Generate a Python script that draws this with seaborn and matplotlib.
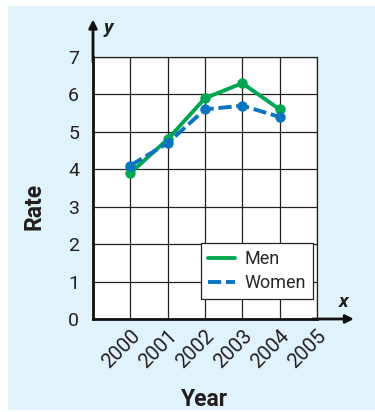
import numpy as np
import pandas as pd
import matplotlib
matplotlib.use("Agg")
import matplotlib.pyplot as plt
from matplotlib.patches import Rectangle
import seaborn as sns

# values
years = [2000, 2001, 2002, 2003, 2004]
men = [3.9, 4.8, 5.9, 6.3, 5.6]
women = [4.1, 4.7, 5.6, 5.7, 5.4]
series_names = ["Men", "Women"]
x_ticks = [1999, 2000, 2001, 2002, 2003, 2004, 2005]
x_tick_labels = ["", "2000", "2001", "2002", "2003", "2004", "2005"]
y_ticks = [0, 1, 2, 3, 4, 5, 6, 7]

green = "#00a651"
blue = "#0a74c0"
panel_blue = "#e0f2fa"
ink = "#231f20"

df = pd.DataFrame({
    "Year": years * 2,
    "Rate": men + women,
    "series": ["Men"] * len(years) + ["Women"] * len(years),
})

sns.set_style("white")
plt.rcParams["font.family"] = ["Roboto", "DejaVu Sans"]

fig = plt.figure(figsize=(3.75, 4.12), dpi=100, facecolor="white")
# light blue panel behind the chart
fig.patches.append(Rectangle((8 / 375, 2 / 412), 367 / 375, 404 / 412,
                             transform=fig.transFigure, facecolor=panel_blue,
                             edgecolor="none", zorder=-5))

ax = fig.add_axes([93 / 375, 1 - 319 / 412, 224 / 375, 262 / 412])
ax.set_facecolor("white")

sns.lineplot(data=df, x="Year", y="Rate", hue="series", style="series",
             palette={"Men": green, "Women": blue},
             dashes={"Men": "", "Women": (3.4, 1.2)},
             markers={"Men": "o", "Women": "o"}, markersize=7.5,
             markeredgewidth=0, linewidth=2.8, ax=ax, zorder=5, clip_on=False)

ax.set_xlim(1999, 2005)
ax.set_ylim(0, 7)
ax.set_xticks(x_ticks)
ax.set_xticklabels(x_tick_labels, rotation=45, ha="right", va="top",
                   rotation_mode="anchor", fontsize=14.5, color=ink)
ax.set_yticks(y_ticks)
ax.set_yticklabels([str(v) for v in y_ticks], fontsize=14, color=ink)
ax.tick_params(axis="both", length=0)
ax.tick_params(axis="y", pad=10)
ax.tick_params(axis="x", pad=5)

ax.grid(True, color="#222222", linewidth=0.9)
ax.set_axisbelow(True)
for side in ["top", "right"]:
    ax.spines[side].set_color("#222222")
    ax.spines[side].set_linewidth(0.9)
for side in ["left", "bottom"]:
    ax.spines[side].set_color("#111111")
    ax.spines[side].set_linewidth(2)

# axis arrows
ax.annotate("", xy=(0, 1.143), xytext=(0, 0.98), xycoords="axes fraction",
            arrowprops=dict(arrowstyle="-|>", color="#111111", lw=2,
                            mutation_scale=12, shrinkA=0, shrinkB=0),
            annotation_clip=False)
ax.annotate("", xy=(1.165, 0), xytext=(0.98, 0), xycoords="axes fraction",
            arrowprops=dict(arrowstyle="-|>", color="#111111", lw=2,
                            mutation_scale=12, shrinkA=0, shrinkB=0),
            annotation_clip=False)
ax.text(0.045, 1.11, "y", transform=ax.transAxes, fontsize=14,
        fontstyle="italic", fontweight="bold", color=ink,
        ha="left", va="center")
ax.text(1.12, 0.065, "x", transform=ax.transAxes, fontsize=14,
        fontstyle="italic", fontweight="bold", color=ink,
        ha="center", va="center")

ax.set_xlabel("Year", fontsize=16.5, fontweight="bold", color=ink)
ax.set_ylabel("Rate", fontsize=16.5, fontweight="bold", color=ink)
ax.xaxis.set_label_coords(0.5, -0.262)
ax.yaxis.set_label_coords(-0.212, 0.43)

handles, labels = ax.get_legend_handles_labels()
for h in handles:
    h.set_marker("")
leg = ax.legend(handles, series_names, loc="lower right",
                bbox_to_anchor=(0.982, 0.076), borderaxespad=0,
                frameon=True, fancybox=False, framealpha=1,
                edgecolor="#222222", fontsize=13, handlelength=1.5,
                handletextpad=0.5, borderpad=0.4, labelspacing=0.3)
leg.get_frame().set_linewidth(0.9)
leg.set_zorder(10)

fig.savefig("out.png", dpi=100, facecolor="white")
